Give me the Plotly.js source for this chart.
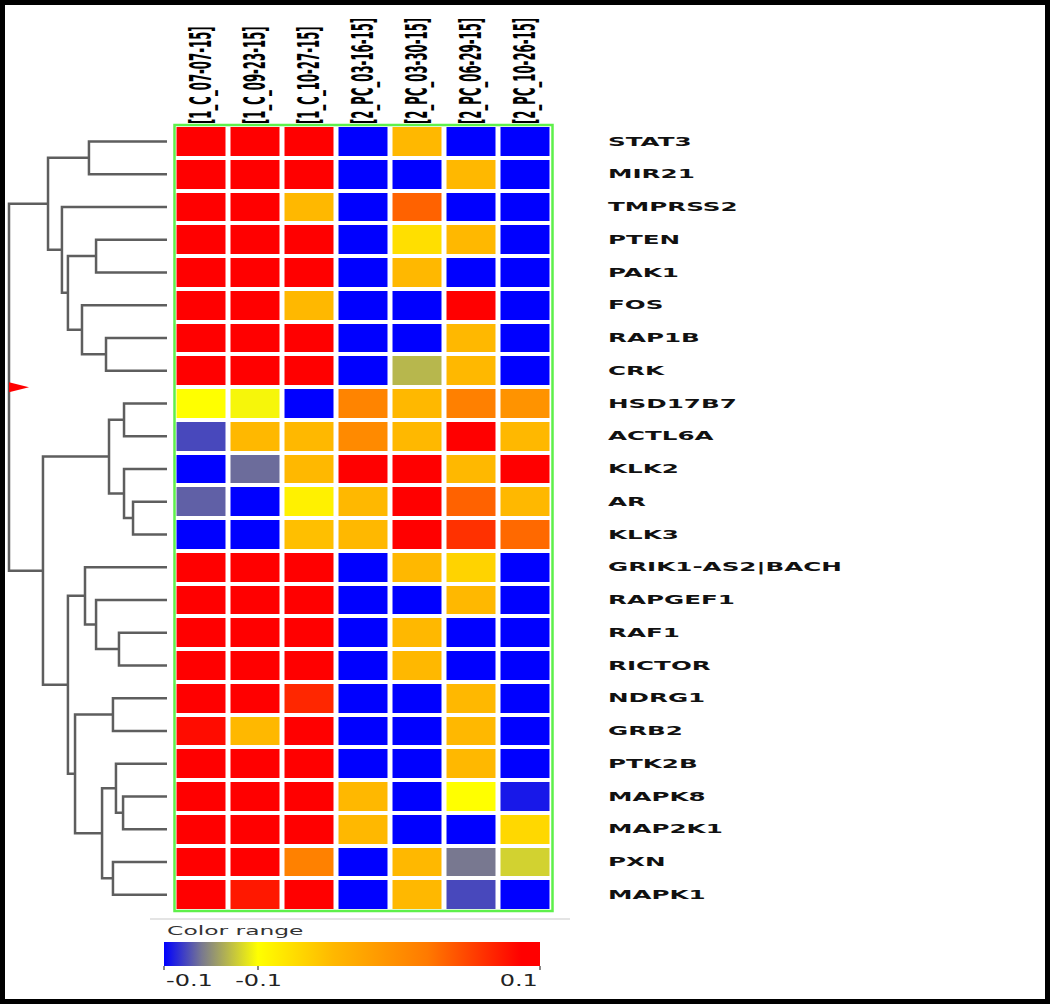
<!DOCTYPE html>
<html><head><meta charset="utf-8">
<script src="https://cdn.plot.ly/plotly-3.0.1.min.js"></script>
<style>html,body{margin:0;padding:0;background:#fff;overflow:hidden}</style>
</head><body><div id="chart" style="width:1050px;height:1004px"></div>
<script>
// ---------- data ----------
const sampleLabels = ['[1_C_07-07-15]','[1_C_09-23-15]','[1_C_10-27-15]','[2_PC_03-16-15]','[2_PC_03-30-15]','[2_PC_06-29-15]','[2_PC_10-26-15]'];
const geneLabels = ['STAT3','MIR21','TMPRSS2','PTEN','PAK1','FOS','RAP1B','CRK','HSD17B7','ACTL6A','KLK2','AR','KLK3','GRIK1-AS2|BACH','RAPGEF1','RAF1','RICTOR','NDRG1','GRB2','PTK2B','MAPK8','MAP2K1','PXN','MAPK1'];
const expression = [
  [0.1, 0.1, 0.1, -0.1, -0.01, -0.1, -0.1],
  [0.1, 0.1, 0.1, -0.1, -0.1, -0.01, -0.1],
  [0.1, 0.1, -0.01, -0.1, 0.05, -0.1, -0.1],
  [0.1, 0.1, 0.1, -0.1, -0.032, -0.01, -0.1],
  [0.1, 0.1, 0.1, -0.1, -0.01, -0.1, -0.1],
  [0.1, 0.1, -0.01, -0.1, -0.1, 0.1, -0.1],
  [0.1, 0.1, 0.1, -0.1, -0.1, -0.01, -0.1],
  [0.1, 0.1, 0.1, -0.1, -0.066, -0.01, -0.1],
  [-0.05, -0.052, -0.1, 0.032, -0.01, 0.035, 0.02],
  [-0.088, -0.01, -0.01, 0.027, -0.01, 0.1, -0.01],
  [-0.1, -0.082, -0.01, 0.1, 0.1, -0.01, 0.095],
  [-0.084, -0.1, -0.042, -0.01, 0.1, 0.05, -0.01],
  [-0.1, -0.1, -0.014, -0.01, 0.1, 0.07, 0.047],
  [0.1, 0.1, 0.1, -0.1, -0.01, -0.025, -0.1],
  [0.1, 0.1, 0.1, -0.1, -0.1, -0.01, -0.1],
  [0.1, 0.1, 0.1, -0.1, -0.01, -0.1, -0.1],
  [0.1, 0.1, 0.1, -0.1, -0.01, -0.1, -0.1],
  [0.1, 0.1, 0.074, -0.1, -0.1, -0.01, -0.1],
  [0.085, -0.01, 0.1, -0.1, -0.1, -0.01, -0.1],
  [0.1, 0.1, 0.1, -0.1, -0.1, -0.01, -0.1],
  [0.1, 0.1, 0.1, -0.01, -0.1, -0.05, -0.096],
  [0.1, 0.1, 0.1, -0.01, -0.1, -0.1, -0.028],
  [0.1, 0.1, 0.034, -0.1, -0.01, -0.08, -0.06],
  [0.1, 0.08, 0.1, -0.1, -0.01, -0.088, -0.1]
];
// hierarchical clustering merges: [childA, childB, distance]; new nodes numbered from 24
const linkage = [
  [0, 1, 0.494], [3, 4, 0.449], [6, 7, 0.386], [5, 26, 0.538], [25, 27, 0.627],
  [2, 28, 0.665], [24, 29, 0.753], [8, 9, 0.272], [11, 12, 0.215], [10, 32, 0.272],
  [31, 33, 0.367], [15, 16, 0.304], [14, 35, 0.449], [13, 36, 0.519], [17, 18, 0.342],
  [20, 21, 0.278], [19, 39, 0.323], [22, 23, 0.342], [40, 41, 0.411], [38, 42, 0.582],
  [37, 43, 0.627], [34, 44, 0.785], [30, 45, 1.0]
];
const colorTickValues = [-0.1, -0.05, 0.1];
const colorTickLabels = ['-0.1', '-0.1', '0.1'];
const zMin = -0.1, zMax = 0.1;

// ---------- geometry ----------
const W = 1050, H = 1004;
const px = v => v / W;
const py = v => 1 - v / H;

// dendrogram segments from linkage
const nodeY = geneLabels.map((_, i) => i);
const nodeH = geneLabels.map(() => 0);
const dX = [], dY = [];
linkage.forEach(([a, b, h]) => {
  dX.push(nodeH[a], h, h, nodeH[b], null);
  dY.push(nodeY[a], nodeY[a], nodeY[b], nodeY[b], null);
  nodeY.push((nodeY[a] + nodeY[b]) / 2);
  nodeH.push(h);
});
const rootH = nodeH[nodeH.length - 1], rootY = nodeY[nodeY.length - 1];

const colorscale = [[0, '#0000ff'], [0.1, '#787890'], [0.25, '#ffff00'], [0.45, '#ffb800'], [0.7, '#ff7a00'], [0.95, '#ff0000'], [1, '#ff0000']];

const cbX0 = px(164), cbX1 = px(540);
const cbPos = v => cbX0 + (v - zMin) / (zMax - zMin) * (cbX1 - cbX0);

const heat = {
  type: 'heatmap', x: sampleLabels, y: geneLabels.map((_, i) => i), z: expression,
  zmin: zMin, zmax: zMax, colorscale: colorscale, xgap: 5, ygap: 4,
  xaxis: 'x', yaxis: 'y', hoverinfo: 'skip',
  colorbar: {
    orientation: 'h', x: cbX0, xanchor: 'left', y: py(942), yanchor: 'top',
    len: cbX1 - cbX0, lenmode: 'fraction', thickness: 24, thicknessmode: 'pixels',
    xpad: 0, ypad: 0, outlinewidth: 0,
    tickvals: colorTickValues, ticks: 'outside', ticklen: 4, tickwidth: 2, tickcolor: '#888',
    showticklabels: false
  }
};
const dendro = {
  type: 'scatter', mode: 'lines', x: dX, y: dY, xaxis: 'x2', yaxis: 'y',
  line: {color: '#5e5e5e', width: 2.5}, hoverinfo: 'skip', showlegend: false, connectgaps: false
};

const annFontT = {family: 'DejaVu Sans', size: 13, color: '#333'};
const annFontK = {family: 'DejaVu Sans', size: 15, color: '#222'};
const annotations = [
  {xref: 'paper', yref: 'paper', x: px(165), y: py(930), xanchor: 'left', yanchor: 'middle', text: 'Color range', showarrow: false, font: annFontT}
];
colorTickValues.forEach((v, i) => {
  annotations.push({
    xref: 'paper', yref: 'paper', x: cbPos(v), y: py(981), yanchor: 'middle',
    xanchor: i === 0 ? 'left' : (i === colorTickValues.length - 1 ? 'right' : 'center'),
    text: colorTickLabels[i], showarrow: false, font: annFontK
  });
});

const layout = {
  width: W, height: H, margin: {l: 0, r: 0, t: 0, b: 0},
  paper_bgcolor: '#fff', plot_bgcolor: '#fff', showlegend: false,
  xaxis: {
    domain: [px(174.5), px(552.5)], anchor: 'y', side: 'top', tickangle: -90,
    showgrid: false, zeroline: false, showline: false, ticks: '',
    tickfont: {family: 'DejaVu Sans Condensed, DejaVu Sans', size: 13, color: '#000', weight: 'bold'},
    automargin: false, fixedrange: true
  },
  yaxis: {
    domain: [py(911), py(125)], range: [geneLabels.length - 0.5, -0.5],
    anchor: 'free', position: px(607), side: 'right',
    tickvals: geneLabels.map((_, i) => i), ticktext: geneLabels,
    showgrid: false, zeroline: false, showline: false, ticks: '',
    tickfont: {family: 'DejaVu Sans', size: 12, color: '#111', weight: 'bold'},
    automargin: false, fixedrange: true
  },
  xaxis2: {
    domain: [px(5), px(170)], range: [1.0253, -0.019], anchor: 'y',
    visible: false, showgrid: false, zeroline: false, fixedrange: true
  },
  annotations: annotations,
  shapes: [
    {type: 'line', xref: 'paper', yref: 'paper', x0: px(150), x1: px(570), y0: py(919), y1: py(919), line: {color: '#e4e4e4', width: 2}},
    {type: 'rect', xref: 'x domain', yref: 'y domain', x0: 0, x1: 1, y0: 0, y1: 1, line: {color: '#5ef04a', width: 2.5}, fillcolor: 'rgba(0,0,0,0)'},
    {type: 'path', xref: 'x2', yref: 'y', xsizemode: 'pixel', ysizemode: 'pixel', xanchor: rootH, yanchor: rootY,
     path: 'M0,5 L20,0 L0,-5 Z', fillcolor: '#ff0000', line: {width: 0}},
    {type: 'rect', xref: 'paper', yref: 'paper', x0: 0, x1: 1, y0: 0, y1: 1, line: {color: '#000', width: 10}, fillcolor: 'rgba(0,0,0,0)'}
  ]
};

function stretch(nodes, sx, anchor) {
  nodes.forEach(t => {
    const r = t.getBoundingClientRect();
    const ax = anchor === 'left' ? r.left : anchor === 'right' ? r.right : (r.left + r.right) / 2;
    const svg = t.ownerSVGElement;
    const m = t.parentNode.getScreenCTM().inverse();
    const p = svg.createSVGPoint(); p.x = ax; p.y = r.top;
    const q = p.matrixTransform(m);
    const old = t.getAttribute('transform') || '';
    t.setAttribute('transform', 'translate(' + q.x + ',0) scale(' + sx + ',1) translate(' + (-q.x) + ',0) ' + old);
  });
}

Plotly.newPlot('chart', [heat, dendro], layout, {staticPlot: true, displayModeBar: false}).then(gd => {
  stretch(gd.querySelectorAll('.xaxislayer-above .xtick text'), 2.3, 'center');
  stretch(gd.querySelectorAll('.yaxislayer-above .ytick text'), 2.05, 'left');
  stretch(gd.querySelectorAll('.annotation[data-index="0"] text'), 1.8, 'left');
  stretch(gd.querySelectorAll('.annotation[data-index="1"] text'), 1.6, 'left');
  stretch(gd.querySelectorAll('.annotation[data-index="2"] text'), 1.6, 'center');
  stretch(gd.querySelectorAll('.annotation[data-index="3"] text'), 1.6, 'right');
});
</script></body></html>
